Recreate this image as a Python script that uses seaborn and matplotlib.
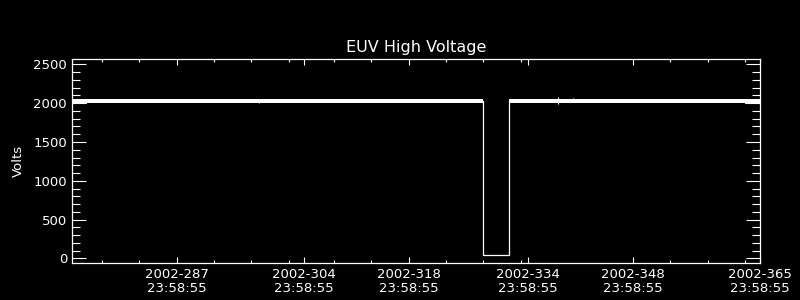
import matplotlib
matplotlib.use("Agg")
import matplotlib.pyplot as plt
import seaborn as sns
import pandas as pd

# ---- data (day of year 2002, volts) ----
trace_day = [273.0, 327.9, 327.9, 331.5, 331.5, 365.0]
trace_volts = [2030, 2030, 42, 42, 2030, 2030]

# noisy band envelope before / after the drop
band1_day = [273.0, 275.0, 275.0, 327.9]
band1_low = [1995, 1995, 2004, 2004]
band1_high = [2050, 2050, 2050, 2050]
band2_day = [331.5, 363.0, 363.0, 365.0]
band2_low = [2004, 2004, 1995, 1995]
band2_high = [2052, 2052, 2050, 2050]

# a few isolated spikes
spike_day = [298.0, 321.0, 338.0, 340.0, 352.0]
spike_low = [2000, 2010, 1985, 2010, 2010]
spike_high = [2060, 2060, 2075, 2062, 2060]

major_days = [287.0, 304.0, 318.0, 334.0, 348.0, 365.0]
major_labels = ["2002-287\n23:58:55", "2002-304\n23:58:55", "2002-318\n23:58:55",
                "2002-334\n23:58:55", "2002-348\n23:58:55", "2002-365\n23:58:55"]
minor_days = [277, 282, 292, 297, 302, 308, 313, 323, 328, 333, 353, 358, 363]

y_major = [0, 500, 1000, 1500, 2000, 2500]

sns.set_theme(style="white")
plt.rcParams['font.family'] = ['DejaVu Sans']

fig = plt.figure(figsize=(8, 3), dpi=100, facecolor="black")
ax = fig.add_axes([0.09, 0.1233, 0.86, 0.68])
ax.set_facecolor("black")

df = pd.DataFrame({"day": trace_day, "volts": trace_volts})
sns.lineplot(data=df, x="day", y="volts", sort=False, estimator=None,
             color="white", linewidth=0.9, ax=ax)
ax.fill_between(band1_day, band1_low, band1_high, color="white", linewidth=0)
ax.fill_between(band2_day, band2_low, band2_high, color="white", linewidth=0)
ax.vlines(spike_day, spike_low, spike_high, color="white", linewidth=0.8)

ax.set_xlim(273.0, 365.0)
ax.set_ylim(-60, 2570)

ax.set_xticks(major_days)
ax.set_xticklabels(major_labels)
ax.set_xticks(minor_days, minor=True)
ax.set_yticks(y_major)
ax.set_yticks(list(range(100, 2600, 100)), minor=True)

for s in ax.spines.values():
    s.set_color("white")
    s.set_linewidth(0.9)

ax.tick_params(axis="x", which="major", direction="in", length=4.5, width=0.8,
               colors="white", top=True, bottom=True, pad=3.6, labelsize=9.5)
ax.tick_params(axis="x", which="minor", direction="in", length=2.3, width=0.8,
               colors="white", top=True, bottom=True)
ax.tick_params(axis="y", which="major", direction="in", length=10, width=0.8,
               colors="white", left=True, right=True, pad=3.6, labelsize=9.5)
ax.tick_params(axis="y", which="minor", direction="in", length=5.5, width=0.8,
               colors="white", left=True, right=True)
for lab in ax.get_xticklabels():
    lab.set_linespacing(1.05)

ax.set_xlabel("")
ax.set_ylabel("Volts", color="white", fontsize=9.5, labelpad=6)
ax.set_title("EUV High Voltage", color="white", fontsize=11.5, pad=5)

fig.savefig("out.png", dpi=100, facecolor="black")
